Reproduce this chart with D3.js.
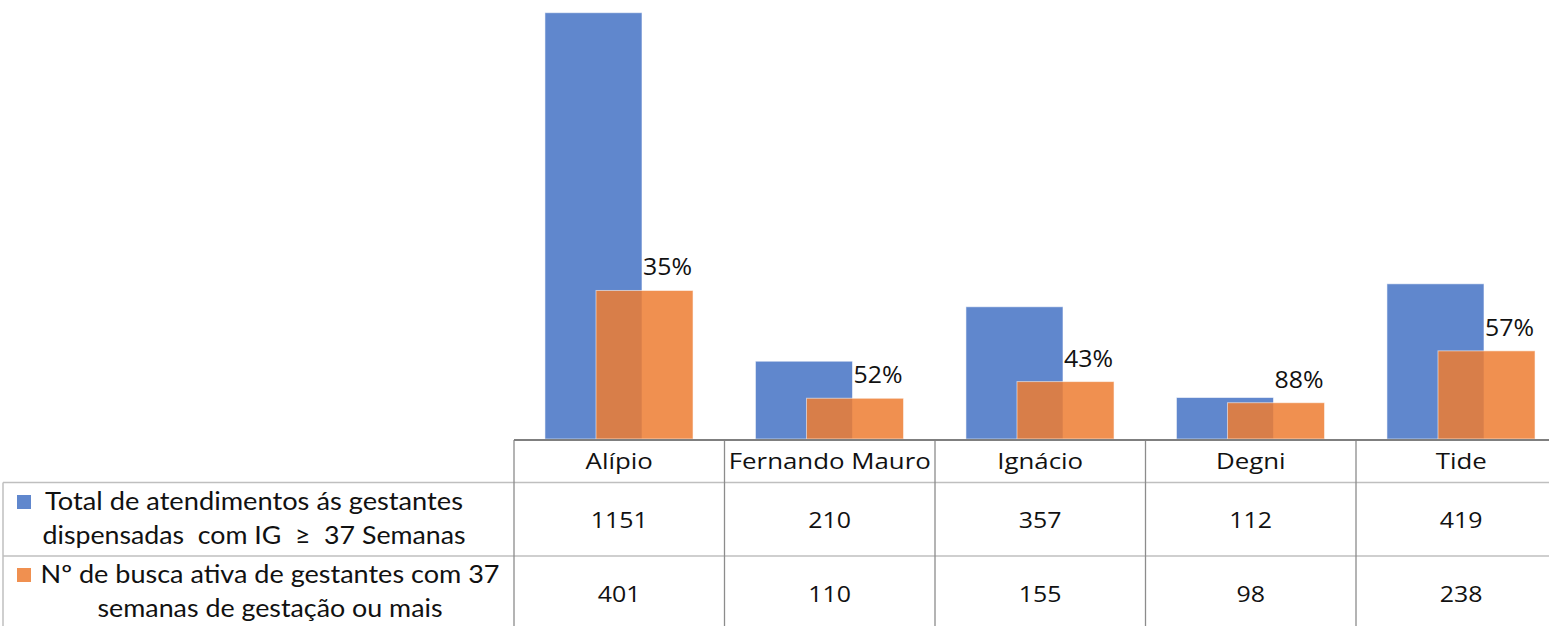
<!DOCTYPE html>
<html>
<head>
<meta charset="utf-8">
<script src="https://cdn.jsdelivr.net/npm/d3@7"></script>
<style>
  html, body { margin: 0; padding: 0; background: #fff; }
  svg { display: block; }
  text { white-space: pre; }
</style>
</head>
<body>
<svg id="chart" width="1549" height="626"></svg>
<script>
// ---- data ----
const categories = ["Alípio", "Fernando Mauro", "Ignácio", "Degni", "Tide"];
const totalAtendimentos = [1151, 210, 357, 112, 419];
const buscaAtiva = [401, 110, 155, 98, 238];
const pctLabels = ["35%", "52%", "43%", "88%", "57%"];
const seriesLines = [
  ["Total de atendimentos ás gestantes", "dispensadas  com IG  ≥  37 Semanas"],
  ["Nº de busca ativa de gestantes com 37", "semanas de gestação ou mais"]
];
const seriesColors = ["#4472C4", "#ED7D31"];

// ---- layout ----
const W = 1549, H = 626;
const svg = d3.select("#chart");
svg.append("rect").attr("width", W).attr("height", H).attr("fill", "#fff");

const tableLeft = 514, colW = 210.5;
const x = d3.scaleBand().domain(categories)
  .range([tableLeft, tableLeft + colW * categories.length]).padding(0);
const y = d3.scaleLinear().domain([0, 1151]).range([439, 12.7]);

const barW = x.bandwidth() * 0.461;
const offs = [x.bandwidth() * 0.147, x.bandwidth() * 0.3895];
const seriesData = [totalAtendimentos, buscaAtiva];

const gBars = svg.append("g");
categories.forEach((c, i) => {
  seriesData.forEach((arr, s) => {
    gBars.append("rect")
      .attr("x", x(c) + offs[s])
      .attr("y", y(arr[i]))
      .attr("width", barW)
      .attr("height", y(0) - y(arr[i]))
      .attr("fill", seriesColors[s])
      .attr("fill-opacity", 0.85)
      .attr("stroke", "#ffffff")
      .attr("stroke-opacity", 0.55)
      .attr("stroke-width", 1);
  });
});

const font = "'Open Sans', sans-serif";
const fsCat = 21.5, fsNum = 22.5, fsPct = 24.5;

function factor(str, size, target) {
  const p = svg.append("text").attr("font-family", font).attr("font-size", size).text(str);
  const k = target / p.node().getComputedTextLength();
  p.remove();
  return k;
}
const kCat = factor("Fernando Mauro", fsCat, 202);
const kNum = factor("1151", fsNum, 57);
const kPct = factor("52%", fsPct, 49);

function stretchText(sel, k) {
  sel.each(function() {
    const w = this.getComputedTextLength();
    d3.select(this).attr("textLength", w * k).attr("lengthAdjust", "spacingAndGlyphs");
  });
  return sel;
}

// percentage labels
categories.forEach((c, i) => {
  const t = svg.append("text")
    .attr("x", x(c) + offs[1] + barW - 1)
    .attr("y", y(buscaAtiva[i]) - 15)
    .attr("text-anchor", "end")
    .attr("font-family", font).attr("font-size", fsPct)
    .attr("fill", "#111")
    .text(pctLabels[i]);
  stretchText(t, kPct);
});

// ---- data table ----
const headTop = 440, row1Top = 482.5, row2Top = 556, tableBottom = 632;
const lightLine = "#BFBFBF", darkLine = "#8C8C8C";
const gT = svg.append("g");

gT.append("line").attr("x1", 3).attr("x2", W).attr("y1", row1Top).attr("y2", row1Top)
  .attr("stroke", lightLine).attr("stroke-width", 1.5);
gT.append("line").attr("x1", 3).attr("x2", W).attr("y1", row2Top).attr("y2", row2Top)
  .attr("stroke", lightLine).attr("stroke-width", 1.5);
gT.append("line").attr("x1", 3).attr("x2", 3).attr("y1", row1Top).attr("y2", tableBottom)
  .attr("stroke", lightLine).attr("stroke-width", 1.5);
categories.forEach((c) => {
  gT.append("line").attr("x1", x(c)).attr("x2", x(c)).attr("y1", headTop).attr("y2", tableBottom)
    .attr("stroke", darkLine).attr("stroke-width", 1.3);
});
gT.append("line").attr("x1", tableLeft).attr("x2", W).attr("y1", headTop).attr("y2", headTop)
  .attr("stroke", "#7F7F7F").attr("stroke-width", 2);

// header category labels
categories.forEach((c) => {
  const t = gT.append("text")
    .attr("x", x(c) + x.bandwidth() / 2).attr("y", 469)
    .attr("text-anchor", "middle")
    .attr("font-family", font).attr("font-size", fsCat).attr("fill", "#111")
    .text(c);
  stretchText(t, kCat);
});

// numbers
const rowBaselines = [528, 602];
seriesData.forEach((arr, s) => {
  categories.forEach((c, i) => {
    const t = gT.append("text")
      .attr("x", x(c) + x.bandwidth() / 2).attr("y", rowBaselines[s])
      .attr("text-anchor", "middle")
      .attr("font-family", font).attr("font-size", fsNum).attr("fill", "#111")
      .text(arr[i]);
    stretchText(t, kNum);
  });
});

// legend cells
const legFont = "Lato, 'Open Sans', sans-serif";
const legFs = 24.5;
const legLayout = [
  { cx: 254, base: [510, 544], widths: [418, 423] },
  { cx: 270, base: [583, 617], widths: [459, 345] }
];
seriesLines.forEach((lines, s) => {
  const L = legLayout[s];
  lines.forEach((ln, j) => {
    gT.append("text")
      .attr("x", L.cx).attr("y", L.base[j])
      .attr("text-anchor", "middle")
      .attr("font-family", legFont).attr("font-size", legFs).attr("fill", "#111")
      .attr("textLength", L.widths[j]).attr("lengthAdjust", "spacingAndGlyphs")
      .text(ln);
  });
  gT.append("rect")
    .attr("x", 17).attr("y", L.base[0] - 15)
    .attr("width", 14).attr("height", 14)
    .attr("fill", seriesColors[s]).attr("fill-opacity", 0.85);
});
</script>
</body>
</html>
